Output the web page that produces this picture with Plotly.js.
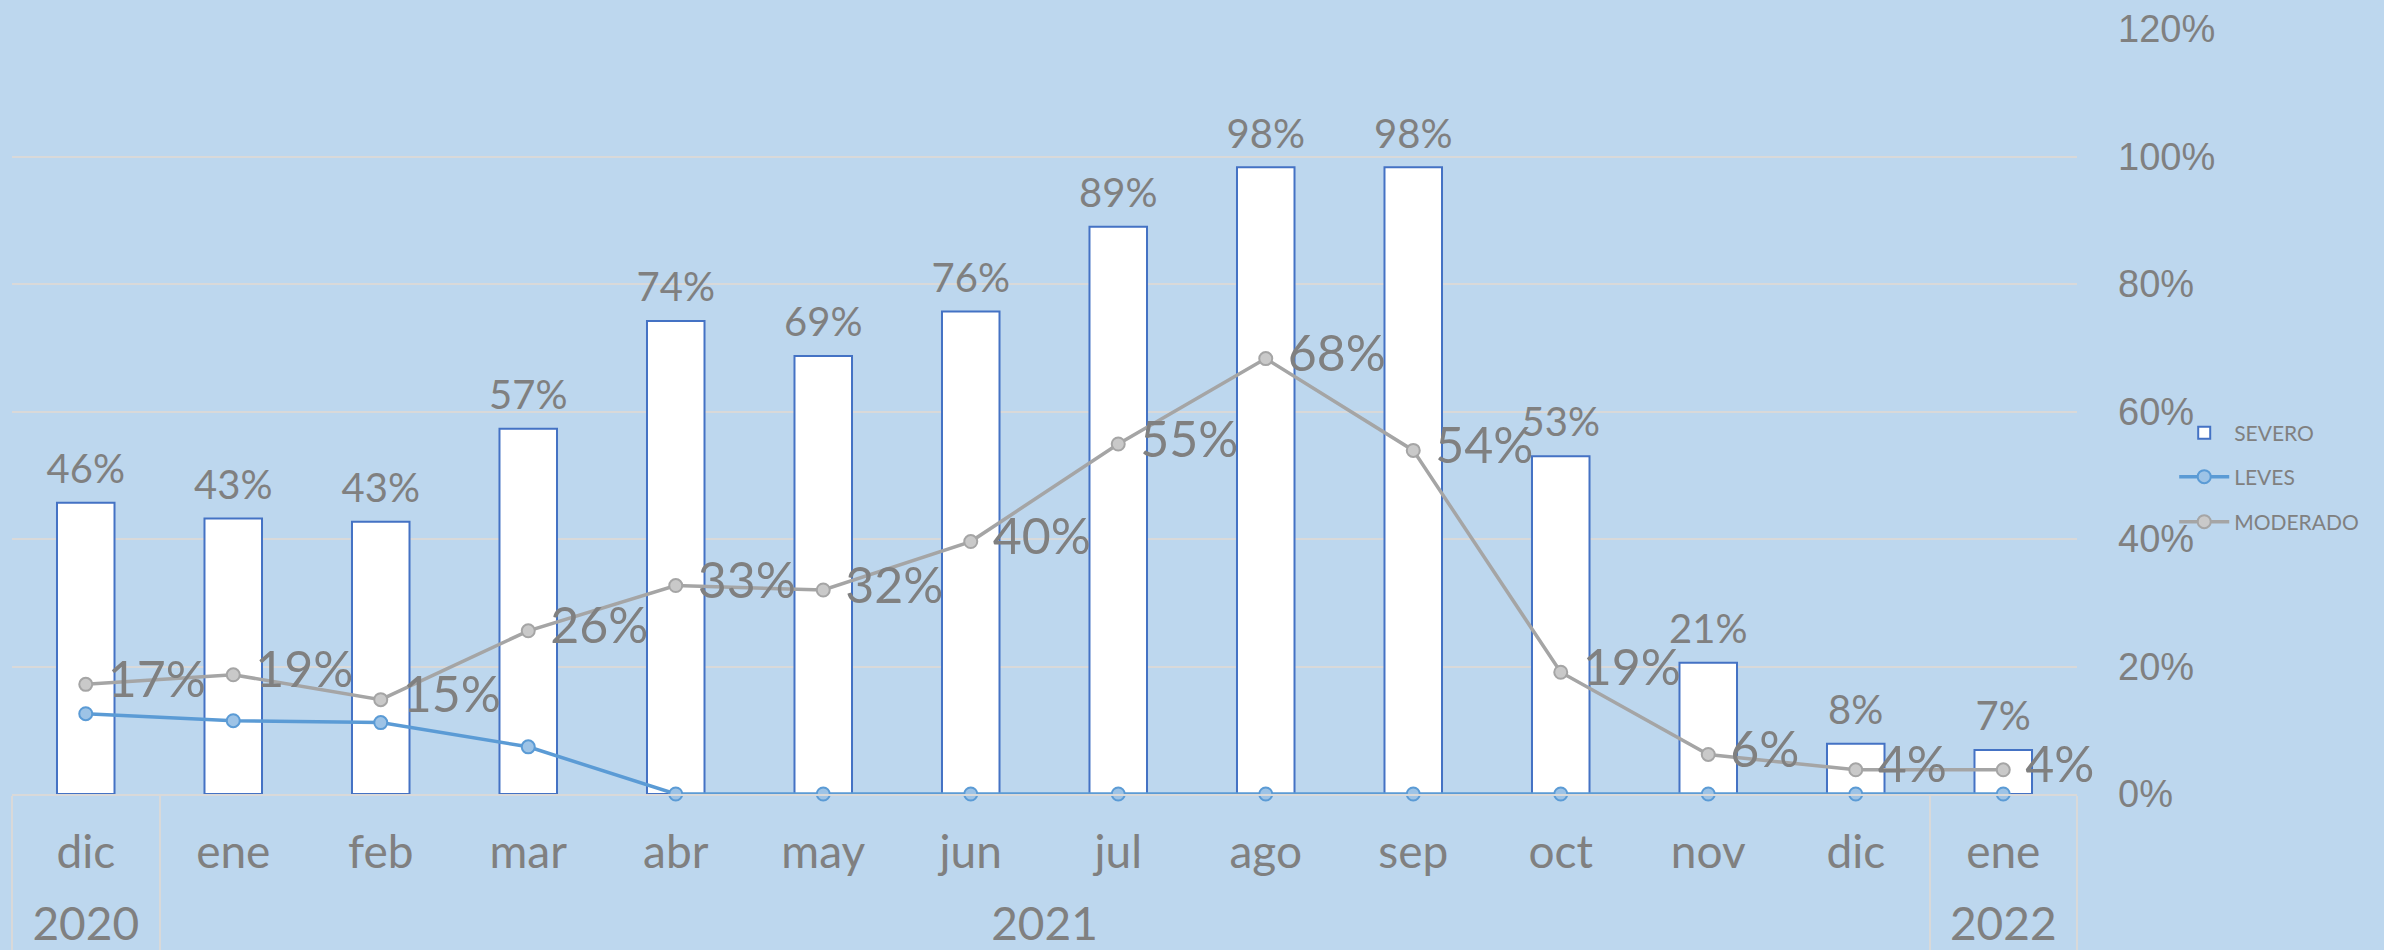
<!DOCTYPE html>
<html>
<head>
<meta charset="utf-8">
<script src="https://cdn.plot.ly/plotly-3.0.1.min.js"></script>
<style>
  html, body { margin: 0; padding: 0; background: #BDD7EE; }
  #chart { width: 2384px; height: 950px; }
</style>
</head>
<body>
<div id="chart"></div>
<script>
// category axis: year of each month + month names
const years = ["2020", "2021", "2021", "2021", "2021", "2021", "2021", "2021", "2021", "2021", "2021", "2021", "2021", "2022"];
const months = ["dic", "ene", "feb", "mar", "abr", "may", "jun", "jul", "ago", "sep", "oct", "nov", "dic", "ene"];

// series (fractions)
const severo = [0.457, 0.432, 0.427, 0.573, 0.742, 0.687, 0.757, 0.89, 0.983, 0.983, 0.53, 0.206, 0.079, 0.069];
const leves = [0.126, 0.115, 0.112, 0.074, 0, 0, 0, 0, 0, 0, 0, 0, 0, 0];
const moderado = [0.172, 0.187, 0.148, 0.256, 0.327, 0.32, 0.396, 0.549, 0.683, 0.539, 0.191, 0.062, 0.038, 0.038];

const grey = "#808080";
const labelFont = "Lato, sans-serif";
const xIdx = months.map((m, i) => i);

// year groups: boundaries (for the divider lines) and centres (for the labels)
const groupEdges = [-0.5];
const groupCenters = [];
const groupNames = [];
let start = 0;
for (let i = 1; i <= years.length; i++) {
  if (i === years.length || years[i] !== years[i - 1]) {
    groupEdges.push(i - 0.5);
    groupCenters.push((start + i - 1) / 2);
    groupNames.push(years[start]);
    start = i;
  }
}

const severoTrace = {
  type: "bar",
  name: "SEVERO",
  x: xIdx,
  y: severo,
  marker: { color: "#ffffff", line: { color: "#4472C4", width: 2 } },
  legend: "legend",
  hovertext: months,
  hoverinfo: "text+y",
};

// labels above the bars
const severoLabels = {
  type: "scatter",
  mode: "markers+text",
  x: xIdx,
  y: severo,
  text: severo.map((v) => Math.round(v * 100) + "%"),
  textposition: "top center",
  textfont: { family: labelFont, size: 40, color: grey },
  marker: { size: 14, color: "rgba(0,0,0,0)" },
  cliponaxis: false,
  showlegend: false,
  hoverinfo: "skip",
};

const levesTrace = {
  type: "scatter",
  mode: "lines+markers",
  name: "LEVES",
  x: xIdx,
  y: leves,
  xaxis: "x2",
  line: { color: "#5B9BD5", width: 3.5 },
  marker: { size: 13, color: "#9DC3E6", line: { color: "#5B9BD5", width: 2 } },
  cliponaxis: false,
  legend: "legend2",
};

// nbsp keeps a little gap between the marker and its label
const moderadoTrace = {
  type: "scatter",
  mode: "lines+markers+text",
  name: "MODERADO",
  x: xIdx,
  y: moderado,
  xaxis: "x3",
  text: moderado.map((v) => "\u00a0" + Math.round(v * 100) + "%"),
  textposition: "middle right",
  textfont: { family: labelFont, size: 50, color: grey },
  line: { color: "#A5A5A5", width: 3.5 },
  marker: { size: 13, color: "#C9C9C9", line: { color: "#A5A5A5", width: 2 } },
  cliponaxis: false,
  legend: "legend3",
};

const legendBase = {
  xref: "container",
  yref: "container",
  x: 0.912,
  xanchor: "left",
  yanchor: "middle",
  itemwidth: 50,
  bgcolor: "rgba(0,0,0,0)",
  font: { family: labelFont, size: 21, color: grey },
};

const layout = {
  width: 2384,
  height: 950,
  paper_bgcolor: "#BDD7EE",
  plot_bgcolor: "#BDD7EE",
  margin: { l: 12, r: 307, t: 29, b: 156 },
  bargap: 0.61,
  showlegend: true,
  legend: Object.assign({}, legendBase, { y: 1 - 433 / 950 }),
  legend2: Object.assign({}, legendBase, { y: 1 - 477 / 950 }),
  legend3: Object.assign({}, legendBase, { y: 1 - 522 / 950 }),
  // main axis: divider lines between year groups
  xaxis: {
    range: [-0.5, 13.5],
    automargin: false,
    showgrid: false,
    zeroline: false,
    showline: true,
    linecolor: "#d9d9d9",
    linewidth: 2,
    tickmode: "array",
    tickvals: groupEdges,
    ticktext: groupEdges.map(() => ""),
    ticks: "outside",
    ticklen: 160,
    tickwidth: 2,
    tickcolor: "#d9d9d9",
  },
  // month labels
  xaxis2: {
    matches: "x",
    overlaying: "x",
    anchor: "y",
    automargin: false,
    showgrid: false,
    zeroline: false,
    showline: false,
    tickmode: "array",
    tickvals: xIdx,
    ticktext: months,
    ticks: "",
    ticklabelstandoff: 27,
    tickfont: { family: labelFont, size: 46, color: grey },
  },
  // year labels
  xaxis3: {
    matches: "x",
    overlaying: "x",
    anchor: "y",
    automargin: false,
    showgrid: false,
    zeroline: false,
    showline: false,
    tickmode: "array",
    tickvals: groupCenters,
    ticktext: groupNames,
    ticks: "",
    ticklabelstandoff: 99,
    tickfont: { family: labelFont, size: 46, color: grey },
  },
  yaxis: {
    side: "right",
    range: [0, 1.2],
    dtick: 0.2,
    tickformat: ".0%",
    showgrid: true,
    gridcolor: "#d9d9d9",
    gridwidth: 2,
    zeroline: false,
    showline: false,
    ticks: "",
    ticklabelstandoff: 40,
    automargin: false,
    tickfont: { family: "Liberation Sans, Arial, sans-serif", size: 38, color: grey },
  },
};

Plotly.newPlot("chart", [severoTrace, severoLabels, levesTrace, moderadoTrace], layout, {
  displayModeBar: false,
});
</script>
</body>
</html>
